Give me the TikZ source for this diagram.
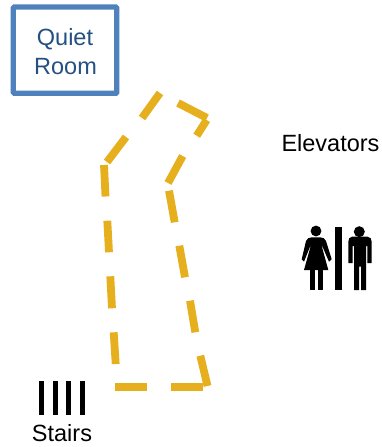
\documentclass[tikz,border=0pt]{standalone}
\usepackage{fontspec}
\setmainfont{Liberation Sans}
\definecolor{routecol}{RGB}{230,175,30}
\definecolor{boxcol}{RGB}{79,129,189}
\definecolor{boxtext}{RGB}{36,80,130}
\tikzset{
  route/.style={draw=routecol,line width=7.8pt},
  roombox/.style={draw=boxcol,line width=5.3pt,rounded corners=1pt,fill=white},
  lbl/.style={inner sep=0pt,font=\fontsize{23.5}{29}\selectfont},
  tread/.style={draw=black,line width=5pt},
  icon/.style={fill=black,draw=none}
}
\begin{document}
\begin{tikzpicture}[x=1pt,y=-1pt]
\useasboundingbox (0,0) rectangle (381,447);
\draw[roombox] (13.3,7) rectangle (116.7,93.3);
\node[lbl,anchor=base,text=boxtext] (quiet) at (65,45) {Quiet};
\node[lbl,anchor=base,text=boxtext] (room) at (65.5,74) {Room};
\node[lbl,anchor=base] (elev) at (330.5,151) {Elevators};
\node[lbl,anchor=base] (stairs) at (62,441.5) {Stairs};
\foreach \x in {41.7,55,68.7,82}{\draw[tread] (\x,381) -- (\x,415.3);}
\draw[route] (160,93) -- (142,118);
\draw[route] (126,137) -- (107,162);
\draw[route] (104,165) -- (105.5,196.5);
\draw[route] (107.3,220.7) -- (109,252.3);
\draw[route] (110.3,276.3) -- (112,308.3);
\draw[route] (113.7,332.3) -- (115.7,364);
\draw[route] (115,387) -- (147,387);
\draw[route] (171,387) -- (203,387);
\draw[route] (207.5,386) -- (200.3,355.7);
\draw[route] (195.3,332.3) -- (190,300.7);
\draw[route] (185,277.3) -- (179.3,245.7);
\draw[route] (174.7,222.3) -- (169,190.7);
\draw[route] (182.7,156) -- (168,183);
\draw[route] (206.7,120) -- (196.7,135.7);
\draw[route] (178,103) -- (207,118);
% restroom icon
\fill[icon] (335,226.7) rectangle (341.7,290);
\fill[icon] (316,231) circle (5.4);
\fill[icon] (359.3,231.7) circle (5.5);
\fill[icon] (312,237.3) -- (320,237.3) .. controls (323,237.3) and (325,238.5) .. (326,241) -- (331.7,259.3) -- (329,261.7) -- (322.5,246.7) -- (321.7,246) -- (328.3,270) -- (304,270) -- (310.7,246) -- (310,246.7) -- (304,261.7) -- (301.7,259.3) -- (306,241) .. controls (307,238.5) and (309,237.3) .. (312,237.3) -- cycle;
\fill[icon] (310,269) rectangle (315,290);
\fill[icon] (317.5,269) rectangle (322.5,290);
\fill[icon] (352,236.7) -- (367.5,236.7) .. controls (370.5,236.7) and (371.7,239) .. (371.7,242) -- (371.7,263) -- (367.3,263) -- (367.3,246) -- (366,246) -- (366,290) -- (361,290) -- (361,266.7) -- (359,266.7) -- (359,290) -- (354,290) -- (354,246) -- (352.7,246) -- (352.7,263) -- (348.3,263) -- (348.3,242) .. controls (348.3,239) and (349.5,236.7) .. (352,236.7) -- cycle;
\end{tikzpicture}
\end{document}
